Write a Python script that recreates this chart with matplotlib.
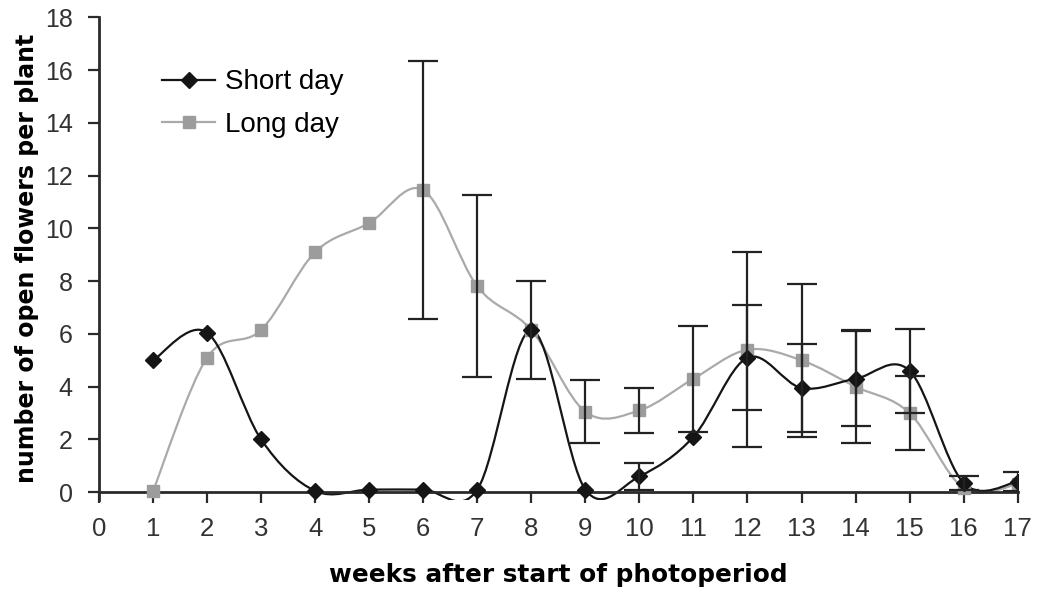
import numpy as np
import matplotlib
matplotlib.use('Agg')
import matplotlib.pyplot as plt
from matplotlib.path import Path
from matplotlib.patches import PathPatch
from matplotlib.lines import Line2D

plt.rcParams['font.family'] = ['Liberation Sans', 'DejaVu Sans']

weeks = np.arange(1, 18)
short_day = [5.0, 6.05, 2.0, 0.05, 0.1, 0.1, 0.1, 6.15, 0.1, 0.6, 2.1, 5.1,
             3.95, 4.3, 4.6, 0.35, 0.4]
long_day = [0.05, 5.1, 6.15, 9.1, 10.2, 11.45, 7.8, 6.15, 3.05, 3.1, 4.3, 5.4,
            5.0, 4.0, 3.0, 0.15, 0.3]

# standard errors (only where bars were drawn)
short_err = {8: 1.85, 10: 0.5, 12: 2.0, 13: 1.65, 14: 1.8, 15: 1.6, 16: 0.25, 17: 0.35}
long_err = {6: 4.9, 7: 3.45, 9: 1.2, 10: 0.85, 11: 2.0, 12: 3.7, 13: 2.9,
            14: 2.15, 15: 1.4}

y_ticks = np.arange(0, 19, 2)
x_ticks = np.arange(0, 18)

BLACK = '#151515'
GREY_LINE = '#aaaaaa'
GREY_MARK = '#9c9c9c'


def smooth_path(xs, ys):
    # Bezier curve through every point, tangents from neighbouring points
    n = len(xs)
    verts = [(xs[0], ys[0])]
    codes = [Path.MOVETO]
    for i in range(n - 1):
        a = max(i - 1, 0)
        b = min(i + 2, n - 1)
        c1 = (xs[i] + (xs[i + 1] - xs[a]) / 6.0, ys[i] + (ys[i + 1] - ys[a]) / 6.0)
        c2 = (xs[i + 1] - (xs[b] - xs[i]) / 6.0, ys[i + 1] - (ys[b] - ys[i]) / 6.0)
        verts += [c1, c2, (xs[i + 1], ys[i + 1])]
        codes += [Path.CURVE4] * 3
    return Path(verts, codes)


fig = plt.figure(figsize=(10.38, 5.94), dpi=100)
ax = fig.add_axes([0.0954, 0.158, 0.885, 0.813])

ax.add_patch(PathPatch(smooth_path(weeks, long_day), fill=False,
                       edgecolor=GREY_LINE, lw=1.6, zorder=2))
ax.plot(weeks, long_day, ls='none', marker='s', ms=9, color=GREY_MARK,
        zorder=3)
ax.add_patch(PathPatch(smooth_path(weeks, short_day), fill=False,
                       edgecolor=BLACK, lw=1.6, zorder=2))
ax.plot(weeks, short_day, ls='none', marker='D', ms=8, color=BLACK, zorder=3)

for series, errs in [(long_day, long_err), (short_day, short_err)]:
    wk = sorted(errs)
    ax.errorbar(wk, [series[w - 1] for w in wk], yerr=[errs[w] for w in wk],
                fmt='none', ecolor='#222222', elinewidth=1.6, capsize=10.5,
                capthick=1.6, zorder=4)

ax.set_xlim(0, 17)
ax.set_ylim(-0.3, 18)
ax.set_xticks(x_ticks)
ax.set_yticks(y_ticks)
ax.spines['top'].set_visible(False)
ax.spines['right'].set_visible(False)
ax.spines['bottom'].set_position(('data', 0))
for s in ['left', 'bottom']:
    ax.spines[s].set_linewidth(2)
    ax.spines[s].set_color('#2a2a2a')
ax.tick_params(axis='y', direction='out', length=8, width=1.6,
               color='#2a2a2a', labelsize=18, labelcolor='#333333', pad=11)
ax.tick_params(axis='x', direction='out', length=8, width=1.6,
               color='#2a2a2a', labelsize=18.5, labelcolor='#333333', pad=10)

ax.set_ylabel('number of open flowers per plant', fontsize=17,
              fontweight='bold', family='DejaVu Sans', labelpad=4)
ax.set_xlabel('weeks after start of photoperiod', fontsize=17.8,
              fontweight='bold', family='DejaVu Sans', labelpad=16)

handles = [Line2D([], [], color=BLACK, lw=1.6, marker='D', ms=8),
           Line2D([], [], color=GREY_LINE, lw=1.6, marker='s', ms=9,
                  markerfacecolor=GREY_MARK, markeredgecolor=GREY_MARK)]
ax.legend(handles, ['Short day', 'Long day'], loc='upper left',
          bbox_to_anchor=(0.0566, 0.915), frameon=False, fontsize=20,
          handlelength=1.9, handletextpad=0.36, labelspacing=0.6,
          borderaxespad=0)

fig.savefig('out.png', dpi=100)
